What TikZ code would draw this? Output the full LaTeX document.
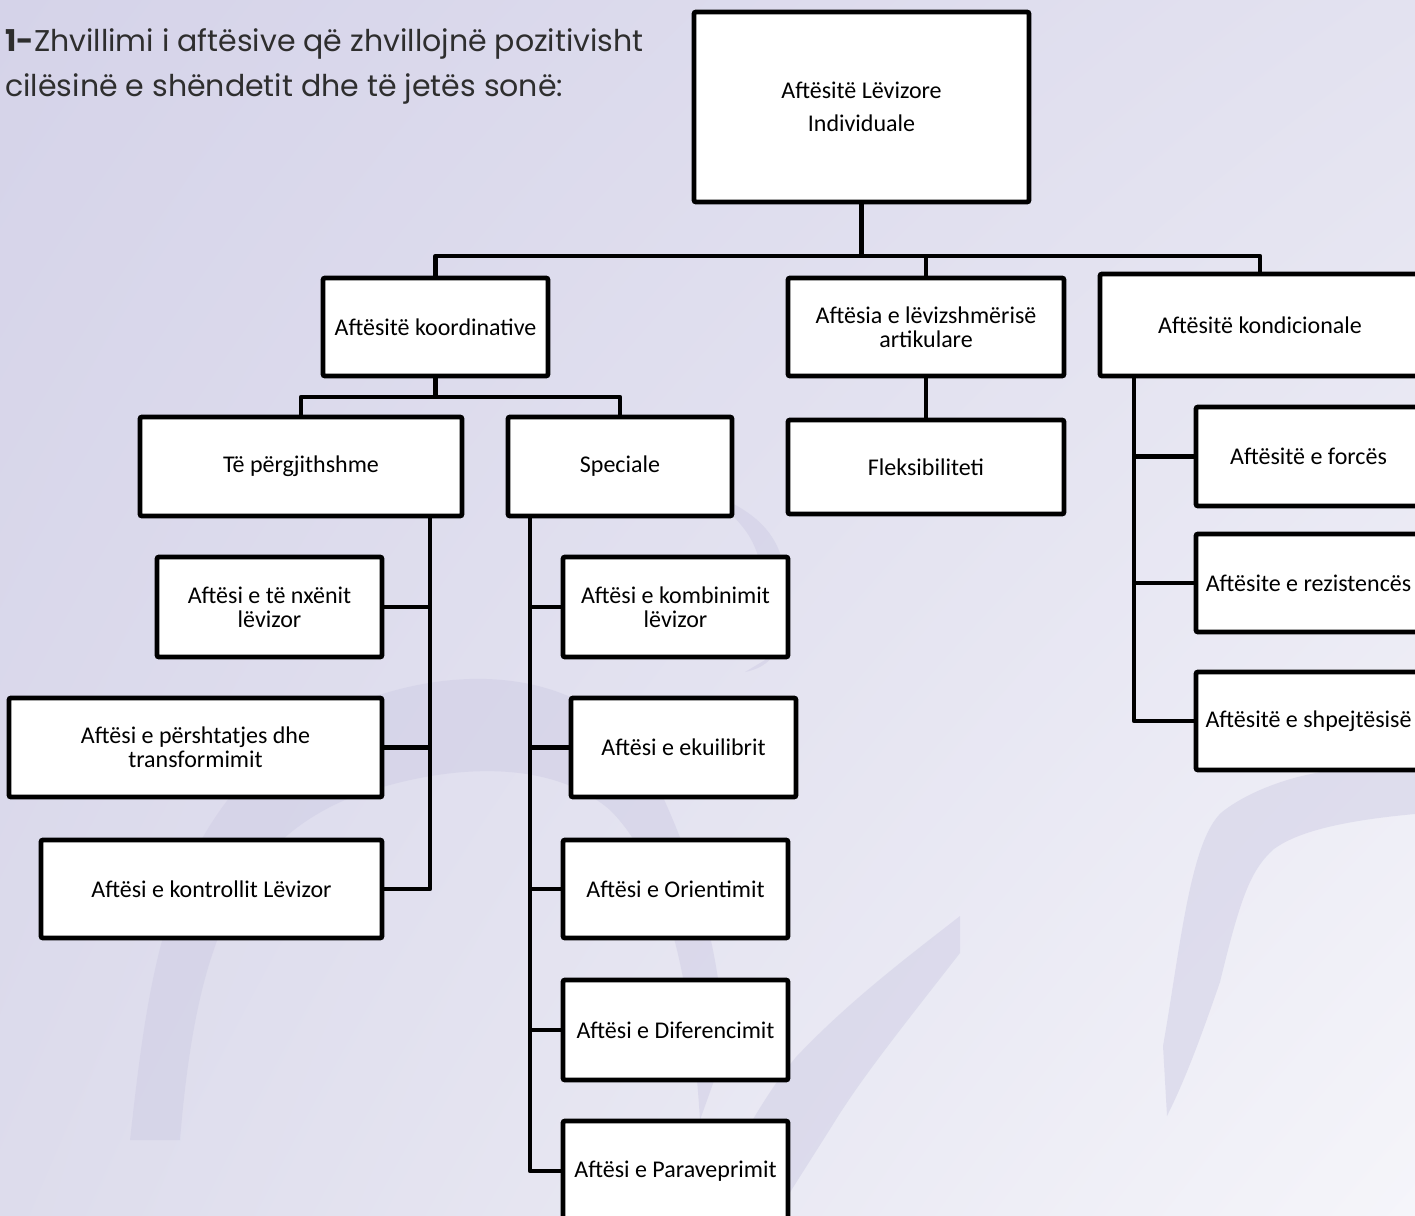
\documentclass[tikz,border=0pt]{standalone}
\usepackage{fontspec}
\usetikzlibrary{shadings}
\setmainfont{Carlito}
\newfontfamily\titlefont{Poppins}
\definecolor{bgA}{HTML}{D5D3E9}
\definecolor{bgB}{HTML}{E3E2F0}
\definecolor{bgC}{HTML}{DDDCEC}
\definecolor{bgD}{HTML}{F5F5FA}
\definecolor{swoosh}{HTML}{CFCDE5}
\definecolor{titlegray}{HTML}{2E2E2E}
\tikzset{
  box/.style={draw, line width=2.4pt, fill=white, rounded corners=1pt, align=center,
    inner sep=0pt, font=\fontsize{12}{12}\selectfont},
  conn/.style={line width=2.4pt, line join=round},
  sw/.style={fill=swoosh, opacity=0.5}
}
\begin{document}
\begin{tikzpicture}[x=0.5pt,y=-0.5pt]
\useasboundingbox (0,0) rectangle (1415,1216);
\clip (0,0) rectangle (1415,1216);
\shade[upper left=bgA, upper right=bgB, lower left=bgC, lower right=bgD] (0,0) rectangle (1415,1216);
% background swooshes
\fill[sw] (130,1140) .. controls (150,960) and (170,800) .. (330,715)
  .. controls (440,660) and (590,660) .. (650,770)
  .. controls (690,850) and (720,940) .. (725,1050) -- (700,1120)
  .. controls (690,960) and (660,860) .. (610,810)
  .. controls (540,750) and (420,770) .. (345,800)
  .. controls (230,850) and (195,960) .. (180,1140) -- cycle;
\fill[sw] (700,490) .. controls (760,510) and (790,540) .. (785,600)
  .. controls (782,640) and (780,665) .. (745,672) -- (765,660)
  .. controls (770,620) and (768,560) .. (745,530)
  .. controls (730,510) and (715,500) .. (700,490) -- cycle;
\fill[sw] (960,916) -- (960,953) .. controls (900,1030) and (860,1080) .. (832,1126)
  -- (775,1216) -- (700,1216) .. controls (730,1160) and (760,1100) .. (796,1057)
  .. controls (850,1000) and (910,955) .. (960,916) -- cycle;
\fill[sw] (1163,1046) .. controls (1180,950) and (1190,840) .. (1222,812)
  .. controls (1250,790) and (1290,778) .. (1311,774)
  .. controls (1350,766) and (1390,757) .. (1415,753) -- (1415,814)
  .. controls (1350,820) and (1300,830) .. (1274,849)
  .. controls (1250,870) and (1240,900) .. (1220,982)
  .. controls (1200,1040) and (1185,1080) .. (1167,1116) -- cycle;
% title
\node[anchor=north west, inner sep=0pt, align=left, text=titlegray,
  font=\titlefont\fontsize{15}{22.5}\selectfont] (title) at (5,28)
  {\textbf{1-}Zhvillimi i aftësive që zhvillojnë pozitivisht\\cilësinë e shëndetit dhe të jetës sonë:};
% nodes
\node[box, minimum width=335*0.5pt, minimum height=190*0.5pt, font=\fontsize{12}{16.5}\selectfont] (root) at (861.5,107) {Aftësitë Lëvizore\\Individuale};
\node[box, minimum width=225*0.5pt, minimum height=98*0.5pt] (koord) at (435.5,327) {Aftësitë koordinative};
\node[box, minimum width=276*0.5pt, minimum height=98*0.5pt] (artik) at (926,327) {Aftësia e lëvizshmërisë\\artikulare};
\node[box, minimum width=320*0.5pt, minimum height=102*0.5pt] (kond) at (1260,325) {Aftësitë kondicionale};
\node[box, minimum width=322*0.5pt, minimum height=99*0.5pt] (pergj) at (301,466.5) {Të përgjithshme};
\node[box, minimum width=224*0.5pt, minimum height=99*0.5pt] (spec) at (620,466.5) {Speciale};
\node[box, minimum width=276*0.5pt, minimum height=94*0.5pt] (fleks) at (926,467) {Fleksibiliteti};
\node[box, minimum width=225*0.5pt, minimum height=100*0.5pt] (nxen) at (269.5,607) {Aftësi e të nxënit\\lëvizor};
\node[box, minimum width=373*0.5pt, minimum height=99*0.5pt] (persh) at (195.5,747.5) {Aftësi e përshtatjes dhe\\transformimit};
\node[box, minimum width=341*0.5pt, minimum height=98*0.5pt] (kontr) at (211.5,889) {Aftësi e kontrollit Lëvizor};
\node[box, minimum width=225*0.5pt, minimum height=100*0.5pt] (komb) at (675.5,607) {Aftësi e kombinimit\\lëvizor};
\node[box, minimum width=225*0.5pt, minimum height=99*0.5pt] (ekui) at (683.5,747.5) {Aftësi e ekuilibrit};
\node[box, minimum width=225*0.5pt, minimum height=98*0.5pt] (orie) at (675.5,889) {Aftësi e Orientimit};
\node[box, minimum width=225*0.5pt, minimum height=100*0.5pt] (dife) at (675.5,1030) {Aftësi e Diferencimit};
\node[box, minimum width=225*0.5pt, minimum height=100*0.5pt] (para) at (675.5,1171) {Aftësi e Paraveprimit};
\node[box, minimum width=225*0.5pt, minimum height=99*0.5pt] (forc) at (1308.5,456.5) {Aftësitë e forcës};
\node[box, minimum width=225*0.5pt, minimum height=98*0.5pt] (rezi) at (1308.5,583) {Aftësite e rezistencës};
\node[box, minimum width=225*0.5pt, minimum height=98*0.5pt] (shpe) at (1308.5,721) {Aftësitë e shpejtësisë};
% bus coordinates
\coordinate (b1) at (0,256);
\coordinate (b2) at (0,397);
\coordinate (t1) at (430,0);
\coordinate (t2) at (530,0);
\coordinate (t3) at (1134,0);
% connectors
\draw[conn] (root.south) -- (root.south |- b1);
\draw[conn] (koord.north) -- (koord.north |- b1) -- (kond.north |- b1) -- (kond.north);
\draw[conn] (artik.north) -- (artik.north |- b1);
\draw[conn] (artik.south) -- (fleks.north);
\draw[conn] (koord.south) -- (koord.south |- b2);
\draw[conn] (pergj.north) -- (pergj.north |- b2) -- (spec.north |- b2) -- (spec.north);
\draw[conn] (pergj.south -| t1) -- (kontr.east -| t1) -- (kontr.east);
\draw[conn] (nxen.east) -- (nxen.east -| t1);
\draw[conn] (persh.east) -- (persh.east -| t1);
\draw[conn] (spec.south -| t2) -- (para.west -| t2) -- (para.west);
\draw[conn] (komb.west) -- (komb.west -| t2);
\draw[conn] (ekui.west) -- (ekui.west -| t2);
\draw[conn] (orie.west) -- (orie.west -| t2);
\draw[conn] (dife.west) -- (dife.west -| t2);
\draw[conn] (kond.south -| t3) -- (shpe.west -| t3) -- (shpe.west);
\draw[conn] (forc.west) -- (forc.west -| t3);
\draw[conn] (rezi.west) -- (rezi.west -| t3);
\end{tikzpicture}
\end{document}
